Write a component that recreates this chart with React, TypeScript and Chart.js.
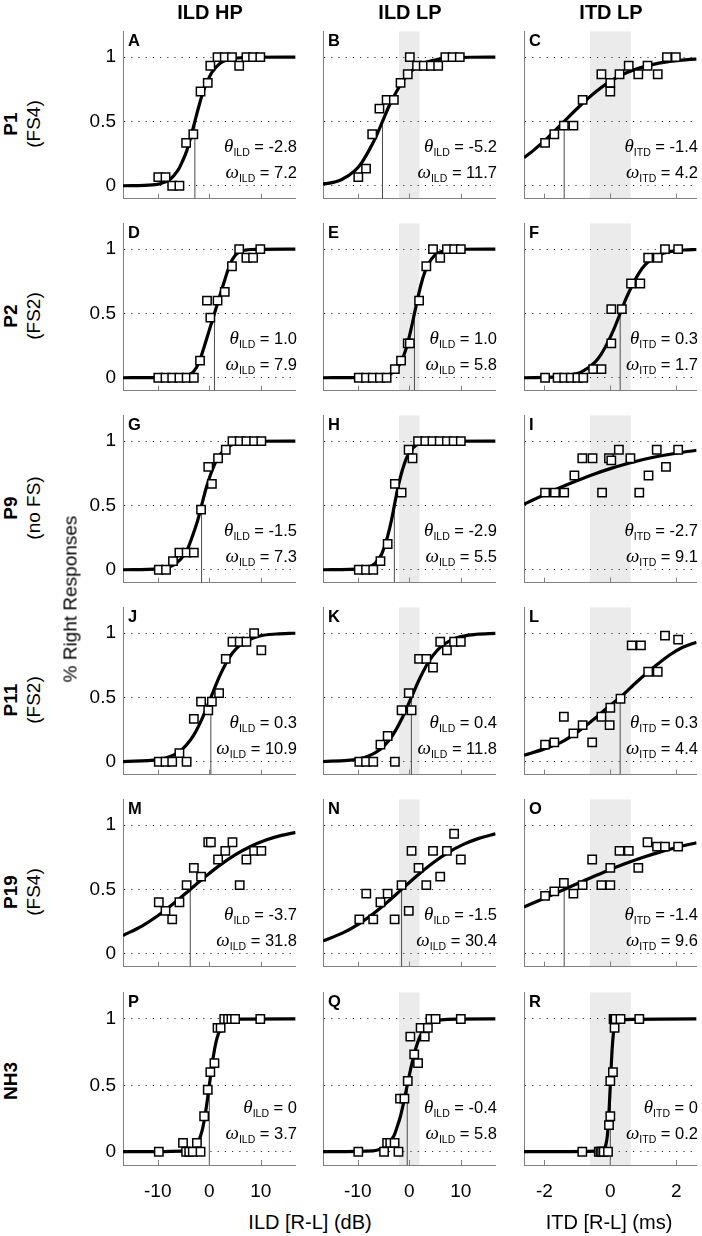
import { useEffect, useRef } from "react";
import { Chart, registerables } from "chart.js";

Chart.register(...registerables);

document.body.style.margin = "0";
document.body.style.background = "#fff";

const SANS = "'Liberation Sans', Arial, sans-serif";
const SERIF = "'Liberation Serif', 'Times New Roman', serif";

// ---- labels ----
const columnTitles = ["ILD HP", "ILD LP", "ITD LP"];
const rowNames = ["P1", "P2", "P9", "P11", "P19", "NH3"];
const rowGroups = ["(FS4)", "(FS2)", "(no FS)", "(FS2)", "(FS4)", ""];
const panelLetters = ["A", "B", "C", "D", "E", "F", "G", "H", "I", "J", "K", "L", "M", "N", "O", "P", "Q", "R"];
const cueNames = ["ILD", "ILD", "ITD"];
const thetaLabels = ["-2.8", "-5.2", "-1.4", "1.0", "1.0", "0.3", "-1.5", "-2.9", "-2.7", "0.3", "0.4", "0.3", "-3.7", "-1.5", "-1.4", "0", "-0.4", "0"];
const omegaLabels = ["7.2", "11.7", "4.2", "7.9", "5.8", "1.7", "7.3", "5.5", "9.1", "10.9", "11.8", "4.4", "31.8", "30.4", "9.6", "3.7", "5.8", "0.2"];
const thetaValues = [-2.8, -5.2, -1.4, 1.0, 1.0, 0.3, -1.5, -2.9, -2.7, 0.3, 0.4, 0.3, -3.7, -1.5, -1.4, 0, -0.4, 0];

// ---- axes ----
const ildTicks = [-10, 0, 10];
const itdTicks = [-2, 0, 2];
const yTicks = [0, 0.5, 1];
const ildRange = 16.75;
const itdRange = 2.62;
const ildLpBand = 2;
const itdLpBand = 0.62;

type P = [number, number];

// ---- measured responses ----
const A_pts: P[] = [[-9.9, 0.067], [-8.5, 0.067], [-7.2, 0], [-5.8, 0], [-4.5, 0.333], [-3.1, 0.4], [-1.7, 0.733], [-0.3, 0.8], [0.2, 0.933], [1.6, 1], [3.0, 1], [4.4, 1], [5.8, 0.933], [7.2, 1], [8.5, 1], [9.9, 1]];
const B_pts: P[] = [[-9.9, 0.067], [-8.4, 0.133], [-7.2, 0.4], [-5.8, 0.6], [-4.4, 0.667], [-3.0, 0.667], [-1.7, 0.8], [-0.3, 0.867], [0.1, 1], [1.5, 0.933], [2.8, 0.933], [4.2, 0.933], [5.6, 0.933], [7.0, 1], [8.4, 1], [9.8, 1]];
const C_pts: P[] = [[-1.98, 0.333], [-1.7, 0.4], [-1.41, 0.467], [-1.12, 0.467], [-0.84, 0.667], [-0.27, 0.867], [0, 0.8], [0, 0.733], [0.28, 0.867], [0.56, 0.933], [0.85, 0.867], [1.13, 0.933], [1.44, 0.867], [1.72, 1], [1.99, 1]];
const D_pts: P[] = [[-9.9, 0], [-8.5, 0], [-7.2, 0], [-5.8, 0], [-4.4, 0], [-3.0, 0], [-1.8, 0.133], [-0.45, 0.6], [0.2, 0.467], [1.6, 0.6], [3.0, 0.667], [4.4, 0.867], [5.8, 1], [7.2, 0.933], [8.5, 0.933], [9.9, 1]];
const E_pts: P[] = [[-9.8, 0], [-8.4, 0], [-7.1, 0], [-5.7, 0], [-4.4, 0], [-2.8, 0.067], [-1.6, 0.133], [-0.3, 0.267], [0.1, 0.267], [1.9, 0.6], [3.3, 0.867], [4.6, 1], [6.0, 0.933], [7.3, 1], [8.7, 1], [10, 1]];
const F_pts: P[] = [[-1.98, 0], [-1.6, 0], [-1.4, 0], [-1.2, 0], [-1.0, 0], [-0.82, 0], [-0.52, 0.067], [-0.27, 0.067], [0.03, 0.267], [0.03, 0.533], [0.35, 0.533], [0.63, 0.733], [0.91, 0.733], [1.15, 0.933], [1.44, 0.933], [1.66, 1], [2.06, 1]];
const G_pts: P[] = [[-9.8, 0], [-8.4, 0], [-7.05, 0.067], [-5.8, 0.133], [-4.4, 0.133], [-3.0, 0.133], [-1.6, 0.467], [-0.2, 0.8], [0.5, 0.667], [1.7, 0.867], [3.2, 0.933], [4.5, 1], [5.9, 1], [7.2, 1], [8.7, 1], [10.1, 1]];
const H_pts: P[] = [[-9.8, 0], [-8.4, 0], [-7.0, 0], [-5.6, 0.067], [-4.2, 0.2], [-2.8, 0.667], [-1.5, 0.6], [-0.13, 0.933], [0.63, 0.867], [1.7, 1], [3.1, 1], [4.5, 1], [5.9, 1], [7.3, 1], [8.6, 1], [10, 1]];
const I_pts: P[] = [[-1.98, 0.6], [-1.68, 0.6], [-1.4, 0.6], [-1.09, 0.733], [-0.85, 0.867], [-0.54, 0.867], [-0.25, 0.6], [-0.04, 0.867], [0.03, 0.85], [0.26, 0.933], [0.61, 0.867], [0.88, 0.6], [1.16, 0.733], [1.41, 0.933], [1.69, 0.8], [2.06, 0.933]];
const J_pts: P[] = [[-9.8, 0], [-8.5, 0], [-7.2, 0], [-5.8, 0.067], [-4.4, 0], [-3.0, 0.333], [-1.6, 0.467], [-0.2, 0.4], [0.5, 0.467], [1.9, 0.533], [3.2, 0.8], [4.5, 0.933], [5.9, 0.933], [7.2, 0.933], [8.7, 1], [10.1, 0.867]];
const K_pts: P[] = [[-9.7, 0], [-8.4, 0], [-7.0, 0], [-5.6, 0.133], [-4.2, 0.2], [-2.8, 0], [-1.5, 0.4], [-0.1, 0.533], [0.44, 0.4], [1.9, 0.8], [3.3, 0.8], [4.6, 0.733], [6.0, 0.933], [7.3, 0.867], [8.7, 0.933], [10, 0.933]];
const L_pts: P[] = [[-1.98, 0.133], [-1.7, 0.15], [-1.41, 0.35], [-1.12, 0.22], [-0.84, 0.285], [-0.55, 0.15], [-0.27, 0.35], [-0.02, 0.285], [0, 0.42], [0.31, 0.49], [0.65, 0.905], [0.93, 0.905], [1.15, 0.7], [1.44, 0.7], [1.66, 0.98], [2.06, 0.95]];
const M_pts: P[] = [[-9.8, 0.4], [-8.5, 0.333], [-7.2, 0.267], [-5.8, 0.4], [-4.4, 0.533], [-3.0, 0.667], [-1.6, 0.6], [-0.2, 0.867], [0.3, 0.867], [1.7, 0.733], [3.1, 0.8], [4.5, 0.867], [5.9, 0.533], [7.2, 0.733], [8.7, 0.8], [10.1, 0.8]];
const N_pts: P[] = [[-9.7, 0.267], [-8.35, 0.467], [-7.0, 0.267], [-5.6, 0.4], [-4.2, 0.467], [-2.85, 0.267], [-1.5, 0.533], [-0.1, 0.333], [0.44, 0.8], [1.8, 0.667], [3.3, 0.533], [4.6, 0.8], [6.0, 0.6], [7.3, 0.8], [8.7, 0.933], [10, 0.733]];
const O_pts: P[] = [[-1.98, 0.45], [-1.7, 0.485], [-1.41, 0.55], [-1.12, 0.467], [-0.84, 0.533], [-0.55, 0.733], [-0.27, 0.533], [0, 0.533], [0, 0.667], [0.28, 0.8], [0.56, 0.8], [0.85, 0.667], [1.13, 0.867], [1.42, 0.833], [1.66, 0.833], [2.06, 0.833]];
const P_pts: P[] = [[-9.8, 0], [-5.1, 0.067], [-4.5, 0], [-3.9, 0], [-3.2, 0], [-2.4, 0.067], [-1.7, 0], [-1.0, 0.267], [-0.3, 0.467], [0.2, 0.6], [1.0, 0.667], [1.6, 0.933], [2.2, 0.933], [2.9, 1], [3.65, 1], [4.3, 1], [5.0, 1], [9.9, 1]];
const Q_pts: P[] = [[-9.9, 0], [-4.9, 0], [-4.3, 0.067], [-3.7, 0.067], [-2.85, 0.067], [-2.1, 0], [-1.8, 0.4], [-0.95, 0.4], [-0.3, 0.533], [0.2, 0.867], [0.95, 0.733], [1.7, 0.667], [2.2, 0.933], [3.0, 0.867], [3.6, 0.933], [4.1, 1], [5.1, 1], [10, 1]];
const R_pts: P[] = [[-0.85, 0], [-0.35, 0], [-0.3, 0], [-0.25, 0], [-0.2, 0], [-0.07, 0], [-0.04, 0.2], [0, 0.267], [0, 0.533], [0.08, 0.6], [0.13, 0.933], [0.1, 1], [0.13, 1], [0.16, 1], [0.31, 1], [0.88, 1]];

// ---- fitted psychometric curves ----
const A_fit: P[] = [[-16.75, 0], [-11, 0.007], [-9.4, 0.018], [-7.7, 0.047], [-6.1, 0.119], [-5.3, 0.182], [-4.4, 0.269], [-3.6, 0.378], [-2.8, 0.5], [-2, 0.622], [-1.2, 0.731], [-0.3, 0.818], [0.5, 0.881], [2.1, 0.953], [3.8, 0.982], [5.4, 0.993], [8, 0.999], [16.75, 1]];
const B_fit: P[] = [[-16.75, 0.015], [-15.85, 0.018], [-13.2, 0.047], [-10.5, 0.119], [-9.2, 0.182], [-7.9, 0.269], [-6.5, 0.378], [-5.2, 0.5], [-3.9, 0.622], [-2.5, 0.731], [-1.2, 0.818], [0.1, 0.881], [2.8, 0.953], [5.5, 0.982], [8.1, 0.993], [12, 0.999], [16.75, 1]];
const C_fit: P[] = [[-2.62, 0.218], [-2.36, 0.269], [-1.88, 0.378], [-1.4, 0.5], [-0.92, 0.622], [-0.44, 0.731], [0.03, 0.818], [0.51, 0.881], [1.47, 0.953], [2.42, 0.982], [2.62, 0.985]];
const D_fit: P[] = [[-16.75, 0], [-6, 0.003], [-5, 0.008], [-4, 0.02], [-3, 0.05], [-2, 0.12], [-1, 0.24], [0, 0.37], [1, 0.5], [2, 0.63], [3, 0.76], [4, 0.88], [5, 0.95], [6, 0.98], [7, 0.992], [8, 0.997], [16.75, 1]];
const E_fit: P[] = [[-16.75, 0], [-5.6, 0.007], [-4.3, 0.018], [-3, 0.047], [-1.64, 0.119], [-0.98, 0.182], [-0.32, 0.269], [0.34, 0.378], [1, 0.5], [1.66, 0.622], [2.32, 0.731], [2.98, 0.818], [3.64, 0.881], [4.96, 0.953], [6.28, 0.982], [7.6, 0.993], [10, 0.999], [16.75, 1]];
const F_fit: P[] = [[-2.62, 0], [-1.64, 0.007], [-1.25, 0.018], [-0.86, 0.047], [-0.47, 0.119], [-0.28, 0.182], [-0.09, 0.269], [0.11, 0.378], [0.3, 0.5], [0.49, 0.622], [0.69, 0.731], [0.88, 0.818], [1.07, 0.881], [1.46, 0.953], [1.85, 0.982], [2.24, 0.993], [2.62, 0.997]];
const G_fit: P[] = [[-16.75, 0], [-9.8, 0.007], [-8.1, 0.018], [-6.5, 0.047], [-4.8, 0.119], [-4, 0.182], [-3.2, 0.269], [-2.3, 0.378], [-1.5, 0.5], [-0.7, 0.622], [0.16, 0.731], [1, 0.818], [1.8, 0.881], [3.5, 0.953], [5.1, 0.982], [6.8, 0.993], [9, 0.999], [16.75, 1]];
const H_fit: P[] = [[-16.75, 0], [-9.2, 0.007], [-7.9, 0.018], [-6.7, 0.047], [-5.4, 0.119], [-4.8, 0.182], [-4.15, 0.269], [-3.5, 0.378], [-2.9, 0.5], [-2.3, 0.622], [-1.65, 0.731], [-1, 0.818], [-0.4, 0.881], [0.86, 0.953], [2.1, 0.982], [3.4, 0.993], [6, 0.999], [16.75, 1]];
const I_fit: P[] = [[-2.62, 0.51], [-2, 0.584], [-1.5, 0.641], [-1, 0.694], [-0.5, 0.743], [0, 0.786], [0.5, 0.824], [1, 0.857], [1.5, 0.884], [2, 0.906], [2.62, 0.929]];
const J_fit: P[] = [[-16.75, 0.001], [-10, 0.016], [-8, 0.034], [-6, 0.073], [-4.5, 0.127], [-3, 0.209], [-1.5, 0.326], [0.3, 0.5], [2, 0.665], [3.3, 0.77], [4.5, 0.845], [5.9, 0.905], [7.2, 0.94], [10, 0.98], [13, 0.993], [16.75, 0.999]];
const K_fit: P[] = [[-16.75, 0.002], [-12, 0.01], [-10, 0.02], [-8, 0.042], [-5.6, 0.097], [-4.2, 0.153], [-3, 0.22], [-1.5, 0.33], [0.4, 0.5], [2, 0.645], [3.3, 0.746], [4.5, 0.821], [6, 0.889], [8, 0.944], [10, 0.973], [13, 0.991], [16.75, 0.998]];
const L_fit: P[] = [[-2.62, 0.05], [-2, 0.1], [-1.5, 0.15], [-1, 0.23], [-0.5, 0.33], [0, 0.44], [0.3, 0.5], [0.8, 0.62], [1.3, 0.73], [1.8, 0.83], [2.2, 0.89], [2.62, 0.93]];
const M_fit: P[] = [[-16.75, 0.142], [-13, 0.217], [-10, 0.295], [-7, 0.388], [-3.7, 0.5], [-1, 0.592], [2, 0.687], [5, 0.769], [8, 0.834], [11, 0.884], [14, 0.92], [16.75, 0.944]];
const N_fit: P[] = [[-16.75, 0.1], [-13, 0.16], [-10, 0.227], [-7, 0.311], [-4, 0.41], [-1.5, 0.5], [1.5, 0.607], [4.5, 0.704], [7.5, 0.786], [10.5, 0.85], [13.5, 0.897], [16.75, 0.933]];
const O_fit: P[] = [[-2.62, 0.364], [-2, 0.432], [-1.4, 0.5], [-0.8, 0.568], [-0.2, 0.634], [0.4, 0.695], [1, 0.75], [1.5, 0.79], [2, 0.826], [2.62, 0.863]];
const P_fit: P[] = [[-16.75, 0], [-4.2, 0.007], [-3.4, 0.018], [-2.5, 0.047], [-1.7, 0.119], [-1.26, 0.182], [-0.84, 0.269], [-0.42, 0.378], [0, 0.5], [0.42, 0.622], [0.84, 0.731], [1.26, 0.818], [1.7, 0.881], [2.5, 0.953], [3.4, 0.982], [4.2, 0.993], [6, 0.999], [16.75, 1]];
const Q_fit: P[] = [[-16.75, 0], [-7, 0.007], [-5.7, 0.018], [-4.4, 0.047], [-3.0, 0.119], [-2.4, 0.182], [-1.7, 0.269], [-1.06, 0.378], [-0.4, 0.5], [0.26, 0.622], [0.92, 0.731], [1.58, 0.818], [2.24, 0.881], [3.56, 0.953], [4.88, 0.982], [6.2, 0.993], [9, 0.999], [16.75, 1]];
const R_fit: P[] = [[-2.62, 0], [-0.23, 0.007], [-0.14, 0.047], [-0.09, 0.119], [-0.046, 0.269], [0, 0.5], [0.046, 0.731], [0.09, 0.881], [0.14, 0.953], [0.23, 0.993], [2.62, 1]];

const panelPoints = [A_pts, B_pts, C_pts, D_pts, E_pts, F_pts, G_pts, H_pts, I_pts, J_pts, K_pts, L_pts, M_pts, N_pts, O_pts, P_pts, Q_pts, R_pts];
const panelFits = [A_fit, B_fit, C_fit, D_fit, E_fit, F_fit, G_fit, H_fit, I_fit, J_fit, K_fit, L_fit, M_fit, N_fit, O_fit, P_fit, Q_fit, R_fit];

// ---- layout ----
const colLeft = [123, 323, 524];
const plotW = 174;
const plotH = 174;
const yAxisW = 45;
const padT = 6;
const padR = 6;
const rowTop = (r: number) => Math.round(30 + 192.1 * r);

function Panel({ index }: { index: number }) {
  const ref = useRef<HTMLCanvasElement | null>(null);
  const r = Math.floor(index / 3);
  const c = index % 3;
  const lastRow = r === 5;
  const xAxisH = lastRow ? 42 : 2;
  const width = yAxisW + plotW + padR;
  const height = padT + plotH + xAxisH;

  useEffect(() => {
    if (!ref.current) return;
    const isItd = c === 2;
    const range = isItd ? itdRange : ildRange;
    const xTicks = isItd ? itdTicks : ildTicks;
    const band = c === 0 ? 0 : isItd ? itdLpBand : ildLpBand;
    const theta = thetaValues[index];

    const bandPlugin = {
      id: "band",
      beforeDraw(chart: Chart) {
        if (!band) return;
        const { ctx, chartArea } = chart;
        const xs = chart.scales.x;
        const x1 = xs.getPixelForValue(-band);
        const x2 = xs.getPixelForValue(band);
        ctx.save();
        ctx.fillStyle = "#ebebeb";
        ctx.fillRect(x1, chartArea.top, x2 - x1, chartArea.bottom - chartArea.top);
        ctx.restore();
      },
    };

    const innerTicks = {
      id: "innerTicks",
      afterDatasetsDraw(chart: Chart) {
        const { ctx, chartArea } = chart;
        const xs = chart.scales.x;
        ctx.save();
        ctx.strokeStyle = "#808080";
        ctx.lineWidth = 1;
        ctx.beginPath();
        xs.ticks.forEach((t) => {
          const px = Math.round(xs.getPixelForValue(t.value)) + 0.5;
          ctx.moveTo(px, chartArea.bottom);
          ctx.lineTo(px, chartArea.bottom - 5);
        });
        ctx.stroke();
        ctx.restore();
      },
    };

    const chart = new Chart(ref.current, {
      type: "scatter",
      data: {
        datasets: [
          {
            data: panelPoints[index].map(([x, y]) => ({ x, y })),
            pointStyle: "rect",
            pointRadius: 5.9,
            pointBorderWidth: 1.5,
            pointBackgroundColor: "#ffffff",
            pointBorderColor: "#000000",
            showLine: false,
            order: 0,
          },
          {
            data: panelFits[index].map(([x, y]) => ({ x, y })),
            showLine: true,
            borderColor: "#000000",
            borderWidth: 3.2,
            pointRadius: 0,
            cubicInterpolationMode: "monotone",
            order: 1,
          },
          {
            data: [
              { x: theta, y: -0.1 },
              { x: theta, y: 0.5 },
            ],
            showLine: true,
            borderColor: "#4a4a4a",
            borderWidth: 1,
            pointRadius: 0,
            order: 2,
          },
        ],
      },
      options: {
        responsive: false,
        animation: false,
        events: [],
        layout: { padding: { left: 0, right: padR, top: padT, bottom: 0 } },
        plugins: { legend: { display: false }, tooltip: { enabled: false } },
        scales: {
          x: {
            type: "linear",
            min: -range,
            max: range,
            afterBuildTicks: (s: any) => {
              s.ticks = xTicks.map((v) => ({ value: v }));
            },
            afterFit: (s: any) => {
              s.height = xAxisH;
              s.paddingLeft = 0;
              s.paddingRight = 0;
            },
            grid: { display: false, drawTicks: false },
            border: { display: true, color: "#808080", width: 1 },
            ticks: {
              display: lastRow,
              color: "#000",
              font: { family: SANS, size: 19 },
              padding: 15,
              maxRotation: 0,
              autoSkip: false,
              callback: (v: any) => String(v),
            },
          },
          y: {
            type: "linear",
            min: -0.1,
            max: 1.2,
            afterBuildTicks: (s: any) => {
              s.ticks = yTicks.map((v) => ({ value: v }));
            },
            afterFit: (s: any) => {
              s.width = yAxisW;
              s.paddingTop = 0;
              s.paddingBottom = 0;
            },
            grid: { display: true, drawTicks: false, color: "#333333", lineWidth: 1 },
            border: { display: true, color: "#808080", width: 1, dash: [1.2, 6] },
            ticks: {
              display: c === 0,
              color: "#000",
              font: { family: SANS, size: 19 },
              padding: 7,
              callback: (v: any) => String(v),
            },
          },
        },
      },
      plugins: [bandPlugin, innerTicks],
    });
    return () => chart.destroy();
  }, [index]);

  return (
    <canvas
      ref={ref}
      width={width}
      height={height}
      style={{
        position: "absolute",
        left: colLeft[c] - yAxisW,
        top: rowTop(r) - padT,
        width,
        height,
      }}
    />
  );
}

function Annotation({ index }: { index: number }) {
  const r = Math.floor(index / 3);
  const c = index % 3;
  const right = 702 - (colLeft[c] + plotW);
  const top = rowTop(r);
  const line = (sym: string, value: string, baseline: number) => (
    <div
      style={{
        position: "absolute",
        right,
        top: top + baseline - 16,
        height: 20,
        lineHeight: "20px",
        fontFamily: SANS,
        fontSize: 16.5,
        whiteSpace: "nowrap",
        color: "#000",
      }}
    >
      <span style={{ fontFamily: SERIF, fontStyle: "italic", fontSize: 19 }}>{sym}</span>
      <span style={{ fontSize: 10.5, position: "relative", top: 4 }}>{cueNames[c]}</span>
      {" = " + value}
    </div>
  );
  return (
    <>
      {line("θ", thetaLabels[index], 122)}
      {line("ω", omegaLabels[index], 148.3)}
      <div
        style={{
          position: "absolute",
          left: colLeft[c] + 5,
          top: top + 2.4,
          fontFamily: SANS,
          fontWeight: "bold",
          fontSize: 16.5,
          lineHeight: 1,
        }}
      >
        {panelLetters[index]}
      </div>
    </>
  );
}

function Rotated({ text, cx, cy, bold, size }: { text: string; cx: number; cy: number; bold?: boolean; size: number }) {
  return (
    <div
      style={{
        position: "absolute",
        left: cx,
        top: cy,
        transform: "translate(-50%, -50%) rotate(-90deg)",
        fontFamily: SANS,
        fontWeight: bold ? "bold" : "normal",
        fontSize: size,
        lineHeight: 1,
        whiteSpace: "nowrap",
      }}
    >
      {text}
    </div>
  );
}

export default function App() {
  const indices = Array.from({ length: 18 }, (_, i) => i);
  return (
    <div style={{ position: "relative", width: 702, height: 1236, background: "#fff", overflow: "hidden" }}>
      {indices.map((i) => (
        <Panel key={"p" + i} index={i} />
      ))}
      {indices.map((i) => (
        <Annotation key={"a" + i} index={i} />
      ))}
      {columnTitles.map((t, c) => (
        <div
          key={t}
          style={{
            position: "absolute",
            left: colLeft[c],
            width: plotW,
            top: 1.9,
            textAlign: "center",
            fontFamily: SANS,
            fontWeight: "bold",
            fontSize: 20,
            lineHeight: 1,
          }}
        >
          {t}
        </div>
      ))}
      {rowNames.map((n, r) => {
        const mid = rowTop(r) + 93.8;
        return (
          <div key={n}>
            {rowGroups[r] ? (
              <>
                <Rotated text={n} cx={10} cy={mid} bold size={19} />
                <Rotated text={rowGroups[r]} cx={33.4} cy={mid} size={19} />
              </>
            ) : (
              <Rotated text={n} cx={10} cy={mid - 4} bold size={19} />
            )}
          </div>
        );
      })}
      <Rotated text="% Right Responses" cx={70} cy={599} size={19} />
      <div
        style={{
          position: "absolute",
          left: 310,
          top: 1212,
          transform: "translateX(-50%)",
          fontFamily: SANS,
          fontSize: 20,
          lineHeight: 1,
          whiteSpace: "nowrap",
        }}
      >
        ILD [R-L] (dB)
      </div>
      <div
        style={{
          position: "absolute",
          left: 609,
          top: 1212,
          transform: "translateX(-50%)",
          fontFamily: SANS,
          fontSize: 20,
          lineHeight: 1,
          whiteSpace: "nowrap",
        }}
      >
        ITD [R-L] (ms)
      </div>
    </div>
  );
}
